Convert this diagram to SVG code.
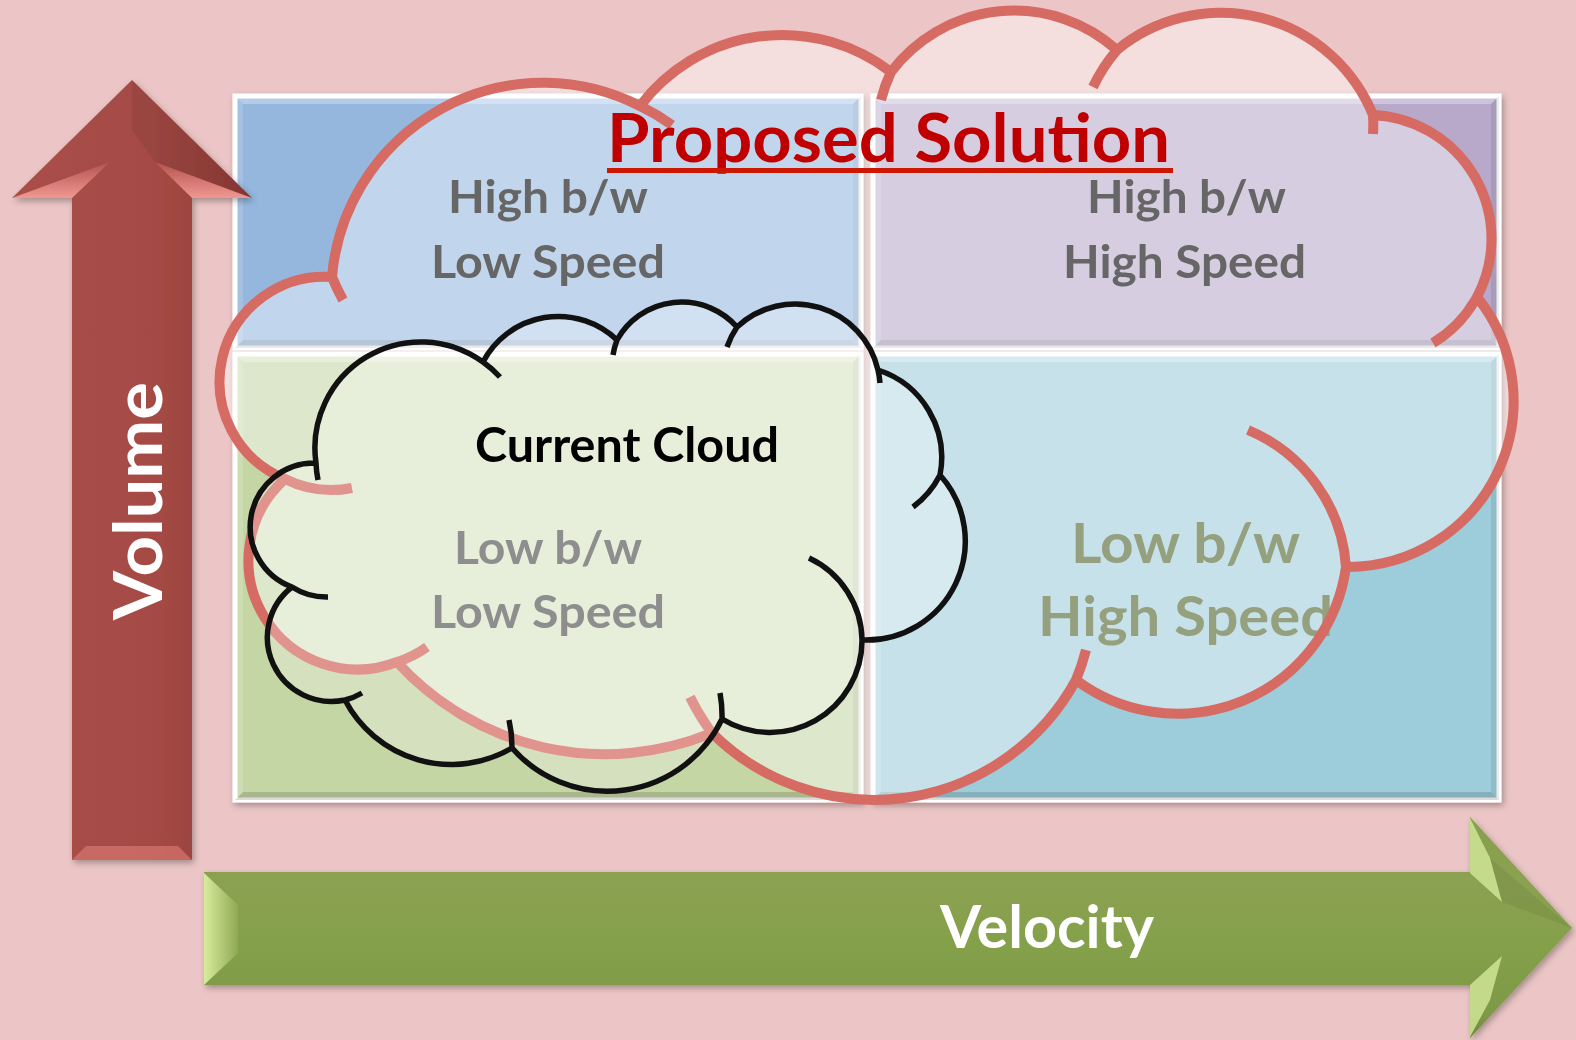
<svg xmlns="http://www.w3.org/2000/svg" width="1576" height="1040" viewBox="0 0 1576 1040">
<style>
.lbl{font-family:Lato,'Open Sans','Liberation Sans',sans-serif;font-weight:700}
.q{stroke:#fff;stroke-width:5}
.dk{fill:#000}
.lt{fill:#fff}
.cloudP{fill:#fff;fill-opacity:.42}
.strokeP{fill:none;stroke:#D66B63;stroke-width:10}
.cloudC{fill:#fff;fill-opacity:.28}
.strokeC{fill:none;stroke:#111;stroke-width:5.5}
</style>
<defs>
<filter id="sh" x="-5%" y="-5%" width="112%" height="115%">
<feDropShadow dx="2" dy="3" stdDeviation="3" flood-color="#000" flood-opacity="0.3"/>
</filter>
<linearGradient id="redShaft" x1="0" y1="0" x2="1" y2="0">
<stop offset="0" stop-color="#A94F4A"/><stop offset="0.6" stop-color="#A54A45"/><stop offset="1" stop-color="#8E3A35"/>
</linearGradient>
<linearGradient id="redBevel" x1="0" y1="1" x2="0" y2="0">
<stop offset="0" stop-color="#F09791"/><stop offset="1" stop-color="#B3534E"/>
</linearGradient>
<linearGradient id="greenShaft" x1="0" y1="0" x2="0" y2="1">
<stop offset="0" stop-color="#86A04B"/><stop offset="0.3" stop-color="#8BA152"/><stop offset="0.6" stop-color="#84A04A"/><stop offset="0.9" stop-color="#7E9845"/><stop offset="1" stop-color="#6E8838"/>
</linearGradient>
<linearGradient id="greenBevelL" x1="0" y1="0" x2="1" y2="0">
<stop offset="0" stop-color="#D8EC9E"/><stop offset="1" stop-color="#8FA954"/>
</linearGradient>
</defs>

<rect id="background" x="0" y="0" width="1576" height="1040" fill="#ECC6C6"/>

<g id="quadrants" filter="url(#sh)">
<g id="quadrant-top-left">
<rect class="q" x="235" y="96" width="626" height="252" fill="#95B7DE"/>
<polygon class="dk" opacity="0.14" points="235,348 861,348 853,340 243,340"/>
<polygon class="dk" opacity="0.08" points="861,96 861,348 853,340 853,104"/>
<polygon class="lt" opacity="0.3" points="235,96 861,96 853,104 243,104"/>
<polygon class="lt" opacity="0.15" points="235,96 243,104 243,340 235,348"/>
</g>
<g id="quadrant-top-right">
<rect class="q" x="873" y="96" width="626" height="252" fill="#B8A9CA"/>
<polygon class="dk" opacity="0.14" points="873,348 1499,348 1491,340 881,340"/>
<polygon class="dk" opacity="0.08" points="1499,96 1499,348 1491,340 1491,104"/>
<polygon class="lt" opacity="0.3" points="873,96 1499,96 1491,104 881,104"/>
<polygon class="lt" opacity="0.15" points="873,96 881,104 881,340 873,348"/>
</g>
<g id="quadrant-bottom-left">
<rect class="q" x="235" y="354" width="626" height="446" fill="#C5D6A5"/>
<polygon class="dk" opacity="0.14" points="235,800 861,800 853,792 243,792"/>
<polygon class="dk" opacity="0.08" points="861,354 861,800 853,792 853,362"/>
<polygon class="lt" opacity="0.3" points="235,354 861,354 853,362 243,362"/>
<polygon class="lt" opacity="0.15" points="235,354 243,362 243,792 235,800"/>
</g>
<g id="quadrant-bottom-right">
<rect class="q" x="873" y="354" width="626" height="446" fill="#9DCCDA"/>
<polygon class="dk" opacity="0.14" points="873,800 1499,800 1491,792 881,792"/>
<polygon class="dk" opacity="0.08" points="1499,354 1499,800 1491,792 1491,362"/>
<polygon class="lt" opacity="0.3" points="873,354 1499,354 1491,362 881,362"/>
<polygon class="lt" opacity="0.15" points="873,354 881,362 881,792 873,800"/>
</g>
</g>

<g id="axes">
<g id="volume-arrow" filter="url(#sh)">
<polygon points="132,80 252,198 192,198 192,860 72,860 72,198 12,198" fill="url(#redShaft)"/>
<polygon class="dk" opacity="0.07" points="132,80 252,198 192,198 155,162 132,130"/>
<polygon points="12,198 72,198 110,162" fill="url(#redBevel)"/>
<polygon points="252,198 192,198 155,162" fill="url(#redBevel)"/>
<polygon points="72,860 192,860 178,846 86,846" fill="#E07D77" opacity="0.6"/>
<text class="lbl" transform="translate(162,620) rotate(-90)" x="0" y="0" font-size="67" fill="#FFFFFF" textLength="238" lengthAdjust="spacingAndGlyphs">Volume</text>
</g>
<g id="velocity-arrow" filter="url(#sh)">
<polygon points="204,872 1470,872 1470,817 1572,928 1470,1038 1470,985 204,985" fill="url(#greenShaft)"/>
<polygon points="204,873 238,905 238,953 204,985" fill="url(#greenBevelL)"/>
<polygon points="1470,818 1470,873 1502,902 1490,858" fill="#CFE596" opacity="0.85"/>
<polygon points="1470,1037 1470,985 1502,956 1490,1000" fill="#CFE596" opacity="0.85"/>
<polygon class="dk" opacity="0.06" points="1490,858 1572,928 1502,902"/>
<text class="lbl" x="940" y="948" font-size="60" fill="#FFFFFF" textLength="214" lengthAdjust="spacingAndGlyphs">Velocity</text>
</g>
</g>

<g id="cloud-proposed">
<path class="cloudP" d="M 332 277 A 212 212 0 0 1 640 106 A 178 178 0 0 1 891 72 A 154 154 0 0 1 1117 50 A 164 164 0 0 1 1373 115 A 124 124 0 0 1 1477 297 A 166 166 0 0 1 1346 567 A 170 170 0 0 1 1076 680 A 230 230 0 0 1 712 733 A 281 281 0 0 1 397 662 A 109 109 0 0 1 285 479 A 105 105 0 0 1 332 277 Z"/>
</g>

<g id="label-low-bw-high-speed">
<text class="lbl" x="1071" y="563" font-size="56" fill="#95A07E" textLength="229" lengthAdjust="spacingAndGlyphs">Low b/w</text>
<text class="lbl" x="1038" y="636" font-size="56" fill="#95A07E" textLength="295" lengthAdjust="spacingAndGlyphs">High Speed</text>
</g>

<g id="cloud-proposed-outline">
<path class="strokeP" d="M 343 300 A 212 212 0 0 1 332 277 A 212 212 0 0 1 640 106 A 212 212 0 0 1 672 125
M 640 106 A 178 178 0 0 1 891 72
M 881 100 A 154 154 0 0 1 891 72 A 154 154 0 0 1 1117 50
M 1093 87 A 164 164 0 0 1 1117 50 A 164 164 0 0 1 1373 115 A 164 164 0 0 1 1373 134
M 1373 115 A 124 124 0 0 1 1477 297 A 124 124 0 0 1 1433 343
M 1477 297 A 166 166 0 0 1 1346 567
M 1248 430 A 160 160 0 0 1 1346 567 A 170 170 0 0 1 1076 680
M 1086 650 A 230 230 0 0 1 1076 680 A 230 230 0 0 1 712 733 A 230 230 0 0 1 690 697
M 712 733 A 281 281 0 0 1 397 662
M 427 647 A 109 109 0 0 1 397 662 A 109 109 0 0 1 285 479
M 352 488 A 105 105 0 0 1 285 479 A 105 105 0 0 1 332 277"/>
</g>

<g id="cloud-current">
<path class="cloudC" d="M 316 463 A 106 106 0 0 1 483 362 A 85 85 0 0 1 617 340 A 74 74 0 0 1 737 327 A 85 85 0 0 1 878 370 A 92 92 0 0 1 940 475 A 99 99 0 0 1 862 640 A 92 92 0 0 1 722 719 A 127 127 0 0 1 512 748 A 120 120 0 0 1 345 700 A 64 64 0 0 1 292 587 A 64 64 0 0 1 316 463 Z"/>
<path class="strokeC" d="M 328 597 A 64 64 0 0 1 292 587 A 64 64 0 0 1 316 463
M 318 480 A 106 106 0 0 1 316 463 A 106 106 0 0 1 483 362 A 106 106 0 0 1 500 377
M 483 362 A 85 85 0 0 1 617 340
M 613 355 A 74 74 0 0 1 617 340 A 74 74 0 0 1 737 327
M 727 347 A 85 85 0 0 1 737 327 A 85 85 0 0 1 878 370 A 85 85 0 0 1 880 383
M 878 370 A 92 92 0 0 1 940 475 A 92 92 0 0 1 913 507
M 940 475 A 99 99 0 0 1 862 640
M 809 558 A 92 92 0 0 1 862 640 A 92 92 0 0 1 722 719
M 720 693 A 127 127 0 0 1 722 719 A 127 127 0 0 1 512 748
M 509 720 A 120 120 0 0 1 512 748 A 120 120 0 0 1 345 700
M 362 693 A 64 64 0 0 1 345 700 A 64 64 0 0 1 292 587"/>
</g>

<g id="label-high-bw-low-speed">
<text class="lbl" x="448" y="213" font-size="46" fill="#666666" textLength="200" lengthAdjust="spacingAndGlyphs">High b/w</text>
<text class="lbl" x="431" y="278" font-size="46" fill="#666666" textLength="234" lengthAdjust="spacingAndGlyphs">Low Speed</text>
</g>
<g id="label-high-bw-high-speed">
<text class="lbl" x="1087" y="213" font-size="46" fill="#666666" textLength="199" lengthAdjust="spacingAndGlyphs">High b/w</text>
<text class="lbl" x="1063" y="278" font-size="46" fill="#666666" textLength="243" lengthAdjust="spacingAndGlyphs">High Speed</text>
</g>
<g id="label-low-bw-low-speed">
<text class="lbl" x="454" y="564" font-size="46" fill="#8E8E8E" textLength="188" lengthAdjust="spacingAndGlyphs">Low b/w</text>
<text class="lbl" x="431" y="628" font-size="46" fill="#8E8E8E" textLength="234" lengthAdjust="spacingAndGlyphs">Low Speed</text>
</g>
<g id="label-current-cloud">
<text class="lbl" x="475" y="462" font-size="47" fill="#000000" textLength="304" lengthAdjust="spacingAndGlyphs">Current Cloud</text>
</g>
<g id="title-proposed-solution">
<text class="lbl" x="607" y="162" font-size="66" fill="#C00000" textLength="563" lengthAdjust="spacingAndGlyphs">Proposed Solution</text>
<rect x="607" y="168" width="566" height="5" fill="#CC1800"/>
</g>
</svg>
